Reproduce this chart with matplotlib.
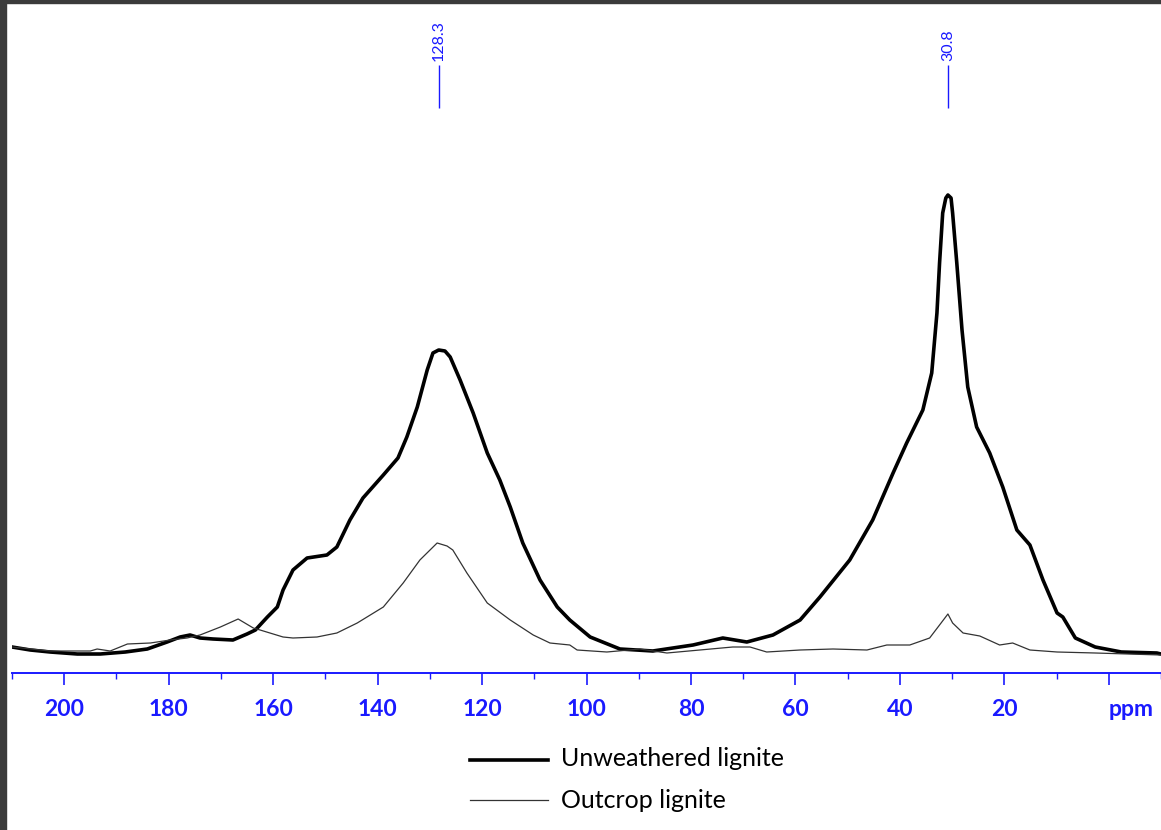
import numpy as np
import matplotlib
matplotlib.use("Agg")
import matplotlib.pyplot as plt
from matplotlib.lines import Line2D
from matplotlib.patches import Rectangle
from matplotlib.ticker import MultipleLocator

plt.rcParams['font.family'] = ['Lato', 'DejaVu Sans']

#%% Spectra (ppm, intensity in arbitrary units)
unweathered_ppm = [210, 206.5, 202.7, 197.5, 193.1, 188.3, 184.1, 180.3, 177.8, 175.9,
                   174.0, 171.5, 167.7, 165.0, 163.4, 161.1, 159.2, 158.1, 156.2, 153.5,
                   149.7, 147.8, 145.3, 142.8, 138.9, 136.1, 134.4, 132.4, 130.5, 129.4,
                   128.3, 127.1, 126.1, 124.2, 121.7, 119.0, 116.6, 114.6, 112.2, 108.9,
                   105.6, 103.2, 99.3, 93.6, 87.3, 79.6, 73.9, 69.3, 64.3, 59.1,
                   55.3, 49.6, 45.2, 41.3, 38.7, 35.6, 33.9, 32.9, 32.4, 31.8,
                   31.2, 30.8, 30.2, 29.9, 29.1, 28.1, 27.0, 25.3, 22.8, 20.3,
                   17.6, 15.1, 12.6, 9.9, 8.8, 6.4, 2.6, -2.4, -9.2, -10]
unweathered_int = [26, 23, 21, 19, 19, 21, 24, 31, 36, 38,
                   35, 34, 33, 39, 43, 56, 66, 83, 103, 115,
                   118, 126, 153, 175, 198, 215, 236, 266, 303, 320,
                   323, 322, 316, 293, 260, 220, 193, 166, 130, 93,
                   66, 53, 36, 24, 22, 28, 35, 31, 38, 53,
                   76, 113, 153, 200, 230, 263, 300, 360, 410, 460,
                   475, 478, 475, 460, 410, 343, 286, 246, 220, 186,
                   143, 128, 93, 60, 56, 35, 26, 21, 20, 19]

outcrop_ppm = [210, 202.7, 195.0, 193.7, 191.2, 187.9, 183.5, 179.7, 176.5, 174.0,
               170.1, 166.7, 163.8, 162.5, 158.1, 156.2, 151.6, 147.8, 143.9, 138.9,
               135.1, 131.9, 128.6, 126.7, 125.6, 122.9, 119.0, 114.6, 110.2, 107.0,
               103.2, 101.8, 96.1, 89.8, 84.6, 78.3, 72.0, 68.7, 65.5, 59.1,
               52.8, 46.3, 42.5, 38.1, 34.3, 32.4, 30.8, 29.9, 27.9, 24.7,
               20.9, 18.4, 15.1, 9.9, 2.6, -10]
outcrop_int = [26, 22, 22, 24, 22, 29, 30, 33, 35, 38,
               46, 54, 45, 43, 36, 35, 36, 40, 50, 66,
               90, 113, 130, 127, 123, 100, 70, 53, 38, 30,
               28, 23, 21, 24, 20, 23, 26, 26, 21, 23,
               24, 23, 28, 28, 35, 48, 59, 50, 40, 37,
               28, 30, 23, 21, 20, 18]

peaks = [128.3, 30.8]
peak_labels = ['128.3', '30.8']
tick_vals = [200, 180, 160, 140, 120, 100, 80, 60, 40, 20]
legend_names = ['Unweathered lignite', 'Outcrop lignite']

blue = '#1a1aff'

#%% Plot
fig = plt.figure(figsize=(11.61, 8.30), dpi=100)
ax = fig.add_axes([12 / 1161, 157 / 830, 1 - 12 / 1161, 673 / 830])

ax.plot(unweathered_ppm, unweathered_int, color='black', lw=2.6,
        solid_joinstyle='round', solid_capstyle='round')
ax.plot(outcrop_ppm, outcrop_int, color='#333333', lw=0.9)

ax.set_xlim(210, -10)
ax.set_ylim(0, 673)
for s in ['top', 'left', 'right']:
    ax.spines[s].set_visible(False)
ax.spines['bottom'].set_color(blue)
ax.spines['bottom'].set_linewidth(1.4)
ax.set_yticks([])
ax.set_xticks(tick_vals + [0])
ax.set_xticklabels([str(t) for t in tick_vals] + [''])
ax.xaxis.set_minor_locator(MultipleLocator(10))
ax.tick_params(axis='x', which='major', direction='out', length=8.5, width=1.2,
               color=blue, labelcolor=blue, labelsize=16.5, pad=10)
for lbl in ax.get_xticklabels():
    lbl.set_fontweight('bold')
ax.tick_params(axis='x', which='minor', direction='out', length=4.3, width=1.0, color=blue)
ax.text(0, -0.038, 'ppm', transform=ax.get_xaxis_transform(), ha='left', va='top',
        color=blue, fontsize=16.5, fontweight='bold')

# peak markers
for p, lab in zip(peaks, peak_labels):
    ax.vlines(p, 565, 608, color=blue, lw=1.0)
    ax.text(p, 612, lab, rotation=90, ha='center', va='bottom', color=blue, fontsize=11.5)

# legend drawn by hand
fig.add_artist(Line2D([470 / 1161, 548 / 1161], [1 - 760 / 830] * 2, color='black', lw=2.6))
fig.add_artist(Line2D([470 / 1161, 548 / 1161], [1 - 800 / 830] * 2, color='#333333', lw=0.9))
fig.text(561 / 1161, 1 - 758 / 830, legend_names[0], ha='left', va='center', fontsize=18)
fig.text(561 / 1161, 1 - 800 / 830, legend_names[1], ha='left', va='center', fontsize=18)

# dark window frame at top and left
fig.add_artist(Rectangle((0, 1 - 3 / 830), 1, 3 / 830, transform=fig.transFigure,
                         color='#3b3b3b', zorder=10))
fig.add_artist(Rectangle((0, 0), 6 / 1161, 1, transform=fig.transFigure,
                         color='#3b3b3b', zorder=10))

fig.savefig('out.png', dpi=100)
